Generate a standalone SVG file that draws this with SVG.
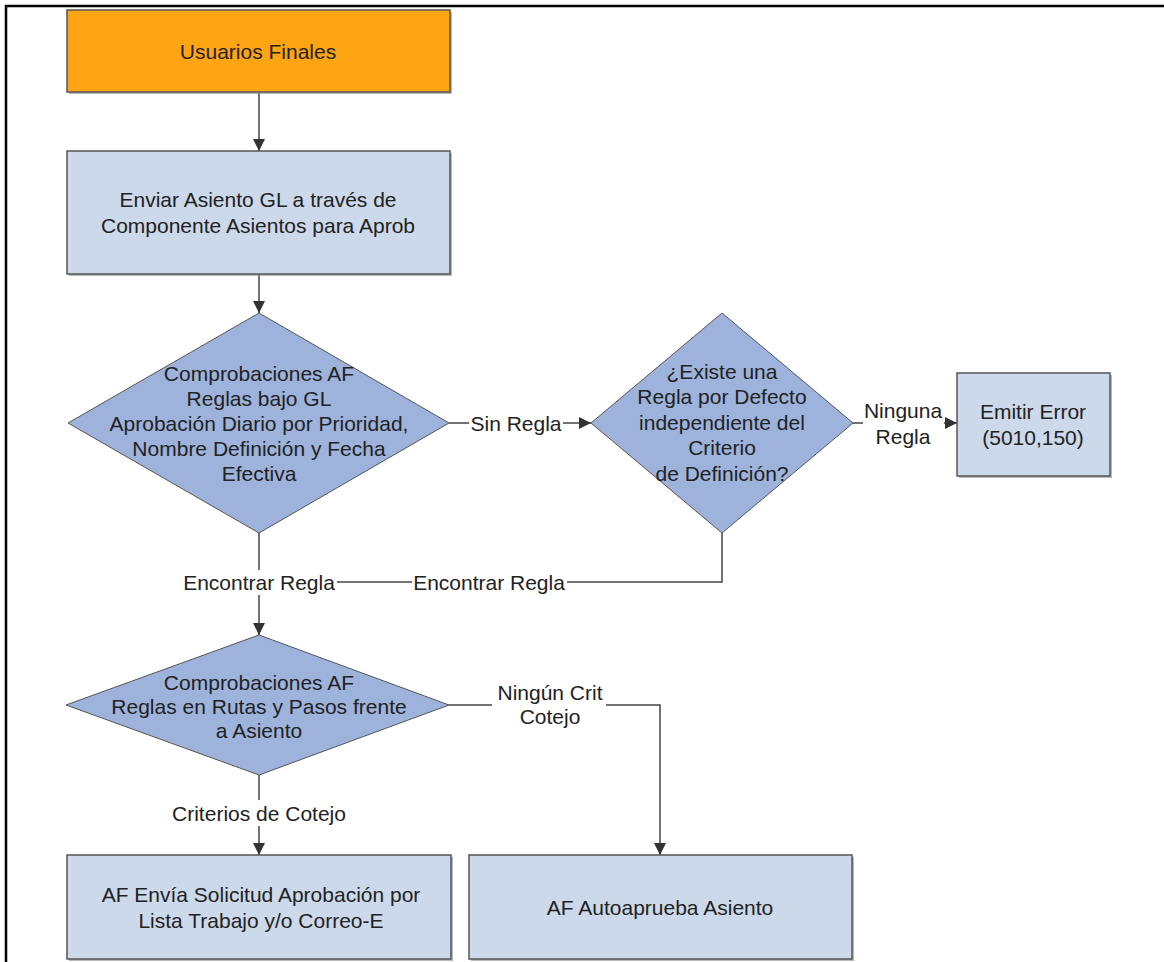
<svg xmlns="http://www.w3.org/2000/svg" width="1164" height="962" viewBox="0 0 1164 962">
<defs>
<marker id="arr" viewBox="0 0 12 12" refX="12" refY="6" markerWidth="12" markerHeight="12" markerUnits="userSpaceOnUse" orient="auto">
<path d="M0,0 L12,6 L0,12 Z" fill="#333"/>
</marker>
</defs>
<style>
.t{font-family:"Liberation Sans",Arial,sans-serif;font-size:21px;fill:#222;text-anchor:middle;dominant-baseline:central}
.box{fill:#CCD9EB;stroke:#555;stroke-width:1.5}
.org{fill:#FFA412;stroke:#555;stroke-width:1.5}
.dia{fill:#9DB3DC;stroke:#555;stroke-width:1}
.sh{fill:#8a8a8a;opacity:0.6}
.ln{fill:none;stroke:#444;stroke-width:1.5}
</style>
<rect width="1164" height="962" fill="#fff"/>
<path d="M6,962 L6,6 L1164,6" fill="none" stroke="#000" stroke-width="2.5"/>

<g id="connectors">
<path class="ln" d="M259,93 L259,151" marker-end="url(#arr)"/>
<path class="ln" d="M259,274 L259,313" marker-end="url(#arr)"/>
<path class="ln" d="M449,423 L469,423"/>
<path class="ln" d="M563,423 L591,423" marker-end="url(#arr)"/>
<text class="t" x="516" y="423">Sin Regla</text>
<path class="ln" d="M853,423 L863,423"/>
<path class="ln" d="M944,423 L957,423" marker-end="url(#arr)"/>
<text class="t" x="903" y="410">Ninguna</text>
<text class="t" x="903" y="436">Regla</text>
<path class="ln" d="M259,533 L259,570"/>
<path class="ln" d="M259,595 L259,635" marker-end="url(#arr)"/>
<text class="t" x="259" y="582">Encontrar Regla</text>
<path class="ln" d="M722,533 L722,582 L567,582"/>
<path class="ln" d="M412,582 L337,582"/>
<text class="t" x="489" y="582">Encontrar Regla</text>
<path class="ln" d="M449,705 L492,705"/>
<path class="ln" d="M606,705 L660,705 L660,855" marker-end="url(#arr)"/>
<text class="t" x="550" y="692">Ningún Crit</text>
<text class="t" x="550" y="716">Cotejo</text>
<path class="ln" d="M259,775 L259,800"/>
<path class="ln" d="M259,826 L259,855" marker-end="url(#arr)"/>
<text class="t" x="259" y="813">Criterios de Cotejo</text>
</g>

<g id="usuarios">
<rect class="sh" x="69" y="12" width="383" height="82"/>
<rect class="org" x="67" y="10" width="383" height="82"/>
<text class="t" x="258" y="51">Usuarios Finales</text>
</g>

<g id="enviar">
<rect class="sh" x="69" y="153" width="383" height="123"/>
<rect class="box" x="67" y="151" width="383" height="123"/>
<text class="t" x="258" y="199">Enviar Asiento GL a través de</text>
<text class="t" x="258" y="225">Componente Asientos para Aprob</text>
</g>

<g id="check1">
<polygon class="dia" points="259,313 449,423 259,533 68,423"/>
<text class="t" x="259" y="373">Comprobaciones AF</text>
<text class="t" x="259" y="398">Reglas bajo GL</text>
<text class="t" x="259" y="423">Aprobación Diario por Prioridad,</text>
<text class="t" x="259" y="448">Nombre Definición y Fecha</text>
<text class="t" x="259" y="473">Efectiva</text>
</g>

<g id="default">
<polygon class="dia" points="722,313 853,423 722,533 591,423"/>
<text class="t" x="722" y="371">¿Existe una</text>
<text class="t" x="722" y="396">Regla por Defecto</text>
<text class="t" x="722" y="422">independiente del</text>
<text class="t" x="722" y="447">Criterio</text>
<text class="t" x="722" y="473">de Definición?</text>
</g>

<g id="error">
<rect class="sh" x="959" y="375" width="153" height="103"/>
<rect class="box" x="957" y="373" width="153" height="103"/>
<text class="t" x="1033" y="411">Emitir Error</text>
<text class="t" x="1033" y="437">(5010,150)</text>
</g>

<g id="check2">
<polygon class="dia" points="259,635 449,705 259,775 66,705"/>
<text class="t" x="259" y="682">Comprobaciones AF</text>
<text class="t" x="259" y="706">Reglas en Rutas y Pasos frente</text>
<text class="t" x="259" y="730">a Asiento</text>
</g>

<g id="envia">
<rect class="sh" x="69" y="857" width="384" height="104"/>
<rect class="box" x="67" y="855" width="384" height="104"/>
<text class="t" x="261" y="894">AF Envía Solicitud Aprobación por</text>
<text class="t" x="261" y="920">Lista Trabajo y/o Correo-E</text>
</g>

<g id="autoaprueba">
<rect class="sh" x="471" y="857" width="383" height="104"/>
<rect class="box" x="469" y="855" width="383" height="104"/>
<text class="t" x="660" y="907">AF Autoaprueba Asiento</text>
</g>
</svg>
